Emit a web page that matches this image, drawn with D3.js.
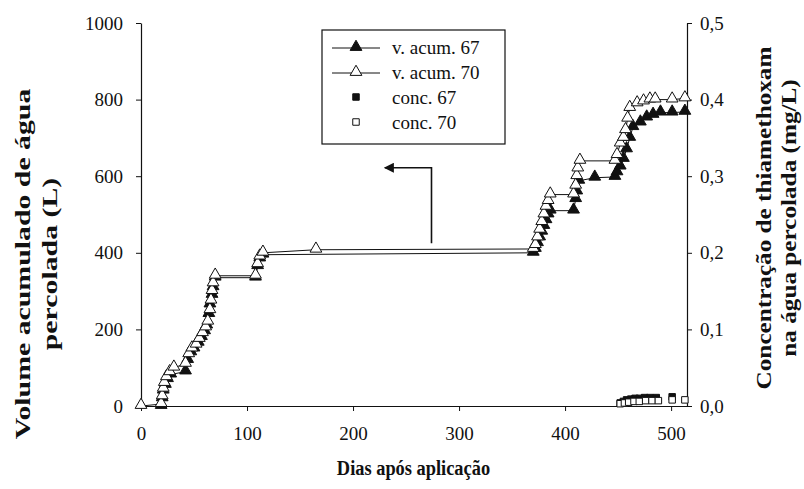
<!DOCTYPE html>
<html>
<head>
<meta charset="utf-8">
<script src="https://cdn.jsdelivr.net/npm/d3@7"></script>
<style>
  html, body { margin: 0; padding: 0; background: #fff; }
  svg { display: block; }
  text { font-family: "Liberation Serif", "DejaVu Serif", serif; fill: #111; }
</style>
</head>
<body>
<svg id="chart" width="804" height="489"></svg>
<script>
// Accumulated percolated water volume (L) per day after application
const days70 = [0, 19, 20, 21, 22, 24, 27, 31, 42, 45, 48, 52, 55, 58, 61, 63, 65, 66, 67, 68, 70, 108, 110, 112, 115, 165, 370,
  372, 374, 376, 378, 380, 382, 384, 386, 408, 410, 411, 412, 414, 447, 449, 452, 455, 457, 459, 461, 468, 474, 480, 485, 501, 513];
const vol70 = [0, 5, 25, 45, 60, 75, 88, 100, 110, 135, 150, 160, 175, 190, 205, 220, 250, 275, 300, 320, 340, 340, 370, 390, 400, 408, 410,
  420, 440, 460, 480, 500, 520, 535, 552, 552, 575, 600, 620, 640, 640, 655, 685, 700, 720, 750, 778, 790, 795, 800, 800, 800, 803];

const days67 = [19, 20, 21, 23, 25, 28, 42, 44, 47, 50, 54, 57, 60, 62, 64, 65, 67, 68, 70, 108, 110, 112, 115, 370,
  372, 374, 376, 378, 380, 382, 384, 386, 408, 410, 411, 413, 428, 447, 449, 452, 455, 458, 461, 464, 471, 477, 483, 490, 501, 513];
const vol67 = [0, 20, 40, 55, 70, 82, 90, 120, 140, 150, 165, 180, 195, 210, 240, 265, 290, 310, 335, 335, 365, 385, 395, 400,
  410, 425, 440, 455, 470, 485, 500, 510, 510, 540, 560, 588, 596, 598, 610, 625, 645, 670, 700, 728, 740, 753, 760, 766, 766, 768];

// Thiamethoxam concentration in percolated water (mg/L)
const concDays67 = [452, 455, 458, 462, 466, 470, 475, 480, 486, 501];
const conc67 = [0.004, 0.006, 0.008, 0.009, 0.010, 0.010, 0.011, 0.011, 0.011, 0.012];
const concDays70 = [452, 456, 460, 465, 470, 476, 482, 488, 501, 513];
const conc70 = [0.003, 0.004, 0.005, 0.006, 0.006, 0.007, 0.007, 0.007, 0.008, 0.008];

const xTicks = [0, 100, 200, 300, 400, 500];
const yLeftTicks = [0, 200, 400, 600, 800, 1000];
const yRightTicks = [0, 0.1, 0.2, 0.3, 0.4, 0.5];

const legendLabels = ["v. acum. 67", "v. acum. 70", "conc. 67", "conc. 70"];

// Annotation arrow pointing to the left-hand axis (day, volume)
const arrowPts = [[274, 425], [274, 622], [230, 622]];

const svg = d3.select("#chart");

const x = d3.scaleLinear().domain([0, 515]).range([141, 687]);
const yL = d3.scaleLinear().domain([0, 1000]).range([406, 23]);
const yR = d3.scaleLinear().domain([0, 0.5]).range([406, 23]);

const fmtComma = d => d3.format(".1f")(d).replace(".", ",");

// Axes
const gx = svg.append("g").attr("transform", `translate(0,${yL(0)})`)
  .call(d3.axisBottom(x).tickValues(xTicks).tickSize(5).tickPadding(16).tickSizeOuter(0));
const gyL = svg.append("g").attr("transform", `translate(${x(0)},0)`)
  .call(d3.axisLeft(yL).tickValues(yLeftTicks).tickFormat(d3.format("d")).tickSize(5).tickPadding(13).tickSizeOuter(0));
const gyR = svg.append("g").attr("transform", `translate(${x(515)},0)`)
  .call(d3.axisRight(yR).tickValues(yRightTicks).tickFormat(fmtComma).tickSize(5).tickPadding(8).tickSizeOuter(0));

[gx, gyL, gyR].forEach(g => {
  g.selectAll("path.domain").attr("stroke", "#111").attr("stroke-width", 1.2);
  g.selectAll(".tick line").attr("stroke", "#111").attr("stroke-width", 1);
  g.selectAll(".tick text").style("font-family", '"Liberation Serif", serif')
    .style("font-size", "19px").attr("fill", "#111");
});

// Axis titles
svg.append("text").attr("transform", `translate(${x(257)},475) scale(0.92,1.08)`)
  .attr("text-anchor", "middle")
  .style("font-size", "20px").style("font-weight", "bold").text("Dias após aplicação");

const leftTitle = svg.append("text").attr("transform", "translate(0,264) rotate(-90) scale(1.42,1)")
  .attr("text-anchor", "middle").style("font-size", "21px").style("font-weight", "bold");
leftTitle.append("tspan").attr("x", 0).attr("y", 30).text("Volume acumulado de água");
leftTitle.append("tspan").attr("x", 0).attr("y", 57).text("percolada (L)");

const rightTitle = svg.append("text").attr("transform", "translate(0,218) rotate(-90) scale(1.2,1)")
  .attr("text-anchor", "middle").style("font-size", "21px").style("font-weight", "bold");
rightTitle.append("tspan").attr("x", 0).attr("y", 771).text("Concentração de thiamethoxam");
rightTitle.append("tspan").attr("x", 0).attr("y", 796).text("na água percolada (mg/L)");

// Series
const tri = d3.symbol().type(d3.symbolTriangle).size(60);
const sq = d3.symbol().type(d3.symbolSquare).size(42);

function volSeries(days, vals, fill) {
  const pts = days.map((d, i) => [d, vals[i]]);
  svg.append("path").datum(pts)
    .attr("fill", "none").attr("stroke", "#111").attr("stroke-width", 1)
    .attr("d", d3.line().x(d => x(d[0])).y(d => yL(d[1])));
  svg.append("g").selectAll("path").data(pts).join("path")
    .attr("transform", d => `translate(${x(d[0])},${yL(d[1]) - 1})`)
    .attr("d", tri).attr("fill", fill).attr("stroke", "#111").attr("stroke-width", 1);
}
volSeries(days67, vol67, "#111");
volSeries(days70, vol70, "#fff");

function concSeries(days, vals, fill) {
  svg.append("g").selectAll("path").data(days.map((d, i) => [d, vals[i]])).join("path")
    .attr("transform", d => `translate(${x(d[0])},${yR(d[1])})`)
    .attr("d", sq).attr("fill", fill).attr("stroke", "#111").attr("stroke-width", 1);
}
concSeries(concDays67, conc67, "#111");
concSeries(concDays70, conc70, "#fff");

// Arrow annotation
svg.append("defs").append("marker").attr("id", "head")
  .attr("viewBox", "0 0 10 10").attr("refX", 9).attr("refY", 5)
  .attr("markerWidth", 14).attr("markerHeight", 10).attr("markerUnits", "userSpaceOnUse")
  .attr("orient", "auto")
  .append("path").attr("d", "M0,0L10,5L0,10Z").attr("fill", "#111");
svg.append("path").datum(arrowPts)
  .attr("fill", "none").attr("stroke", "#111").attr("stroke-width", 1.6)
  .attr("marker-end", "url(#head)")
  .attr("d", d3.line().x(d => x(d[0])).y(d => yL(d[1])));

// Legend
const lg = svg.append("g").attr("transform", "translate(322,30)");
lg.append("rect").attr("width", 183).attr("height", 114)
  .attr("fill", "#fff").attr("stroke", "#111").attr("stroke-width", 1.2);
const rows = [
  { kind: "line", sym: tri, fill: "#111" },
  { kind: "line", sym: tri, fill: "#fff" },
  { kind: "pt", sym: sq, fill: "#111" },
  { kind: "pt", sym: sq, fill: "#fff" }
];
rows.forEach((r, i) => {
  const cy = 18 + i * 25;
  if (r.kind === "line") {
    lg.append("line").attr("x1", 10).attr("x2", 58).attr("y1", cy).attr("y2", cy)
      .attr("stroke", "#111").attr("stroke-width", 1);
  }
  lg.append("path").attr("transform", `translate(34,${cy - 1})`)
    .attr("d", r.sym).attr("fill", r.fill).attr("stroke", "#111").attr("stroke-width", 1);
  lg.append("text").attr("x", 70).attr("y", cy + 6).style("font-size", "19px").text(legendLabels[i]);
});
</script>
</body>
</html>
